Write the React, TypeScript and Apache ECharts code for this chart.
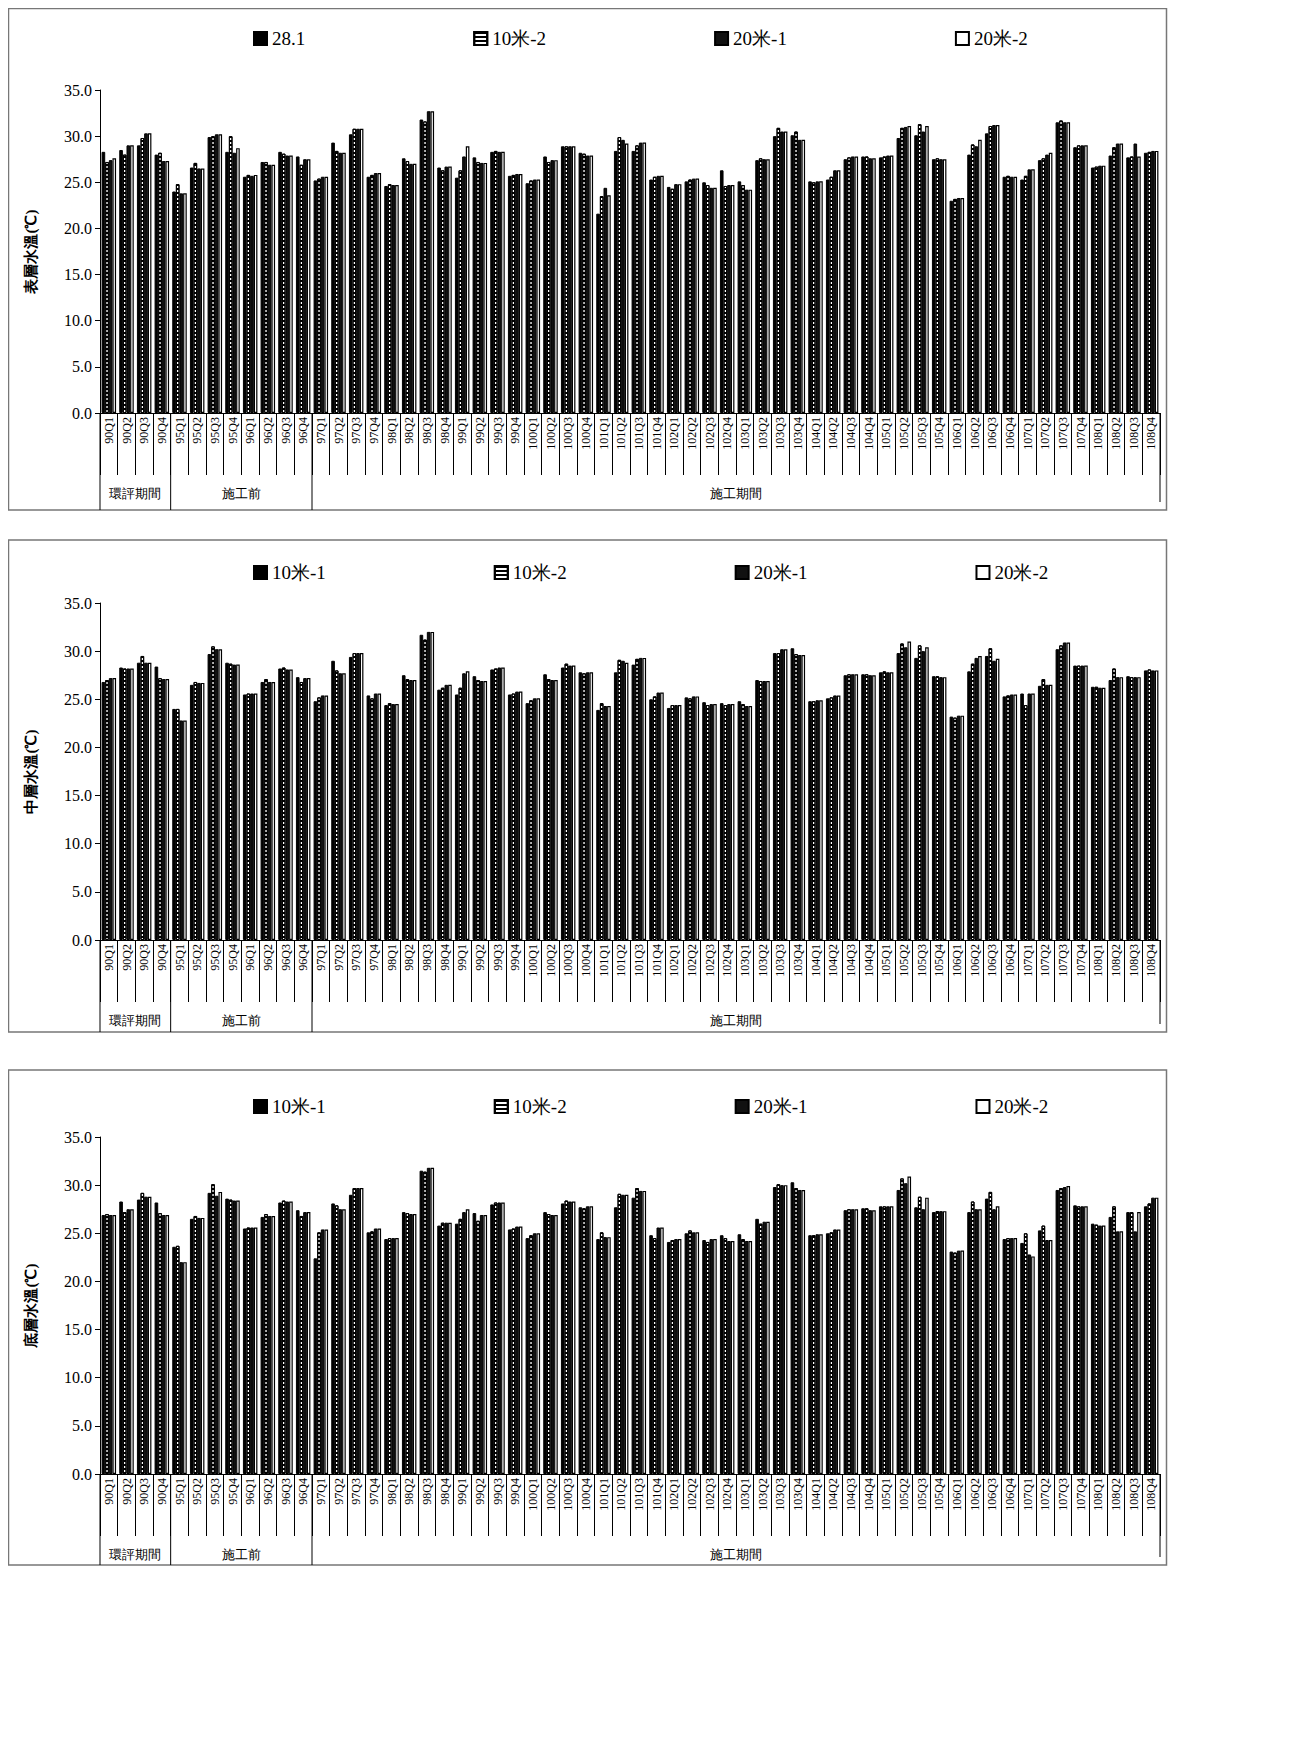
import { useEffect, useRef } from "react";
import * as echarts from "echarts";

const years = ["90", "95", "96", "97", "98", "99", "100", "101", "102", "103", "104", "105", "106", "107", "108"];
const categories = years.flatMap((y) => ["Q1", "Q2", "Q3", "Q4"].map((q) => y + q));

const periods = [
  { label: "環評期間", from: 0, to: 4 },
  { label: "施工前", from: 4, to: 12 },
  { label: "施工期間", from: 12, to: 60 },
];

const yNames = ["表層水溫(℃)", "中層水溫(℃)", "底層水溫(℃)"];
const seriesNames = [
  ["28.1", "10米-2", "20米-1", "20米-2"],
  ["10米-1", "10米-2", "20米-1", "20米-2"],
  ["10米-1", "10米-2", "20米-1", "20米-2"],
];

// panel 1: surface
const surf1 = [28.3,28.5,29.0,28.0,24.0,26.6,29.9,28.3,25.6,27.2,28.3,27.8,25.2,29.3,30.2,25.6,24.6,27.6,31.8,26.6,25.5,27.7,28.3,25.7,24.9,27.8,28.9,28.2,21.6,28.4,28.4,25.3,24.5,25.1,25.0,26.3,25.1,27.4,30.0,30.1,25.1,25.3,27.5,27.8,27.7,29.8,30.1,27.5,23.0,28.0,30.3,25.6,25.3,27.4,31.5,28.8,26.6,27.9,27.7,28.2];
const surf2 = [27.2,28.0,29.8,28.2,24.8,27.1,30.0,30.0,25.8,27.2,28.1,26.9,25.4,28.4,30.8,25.8,24.8,27.3,31.6,26.3,26.3,27.2,28.4,25.8,25.2,27.2,28.9,28.1,23.5,29.9,29.0,25.6,24.3,25.3,24.7,24.6,24.7,27.6,30.9,30.5,25.0,25.6,27.7,27.8,27.8,30.9,31.3,27.6,23.2,29.1,31.1,25.7,25.7,27.6,31.7,29.0,26.7,28.8,27.8,28.3];
const surf3 = [27.4,29.0,30.3,27.3,23.8,26.5,30.2,28.2,25.7,26.9,27.9,27.5,25.6,28.2,30.8,26.0,24.7,27.0,32.7,26.7,27.8,27.1,28.3,25.9,25.3,27.4,28.9,27.9,24.4,29.6,29.3,25.7,24.8,25.4,24.4,24.7,24.2,27.5,30.5,29.6,25.1,26.3,27.8,27.6,27.9,31.0,30.5,27.5,23.3,28.9,31.2,25.6,26.4,28.0,31.5,29.0,26.8,29.2,29.2,28.4];
const surf4 = [27.6,29.0,30.3,27.3,23.8,26.5,30.2,28.7,25.8,26.9,27.9,27.5,25.6,28.2,30.8,26.0,24.7,27.0,32.7,26.7,28.9,27.1,28.3,25.9,25.3,27.4,28.9,27.9,23.6,29.2,29.3,25.7,24.8,25.4,24.4,24.7,24.2,27.5,30.5,29.6,25.1,26.3,27.8,27.6,27.9,31.1,31.1,27.5,23.3,29.6,31.2,25.6,26.4,28.2,31.5,29.0,26.8,29.2,27.8,28.4];

// panel 2: middle
const mid1 = [26.8,28.3,28.8,28.4,24.0,26.5,29.7,28.8,25.5,26.8,28.2,27.3,24.8,29.0,29.4,25.4,24.4,27.5,31.7,26.0,25.5,27.4,28.1,25.5,24.6,27.6,28.3,27.8,23.9,27.8,28.6,25.0,24.1,25.2,24.7,24.6,24.8,27.0,29.8,30.3,24.8,25.1,27.5,27.6,27.8,29.8,29.3,27.4,23.2,27.9,29.5,25.3,25.6,26.4,30.2,28.5,26.3,27.0,27.4,28.0];
const mid2 = [27.0,28.2,29.5,27.2,24.0,26.8,30.5,28.7,25.6,27.1,28.3,26.8,25.2,28.0,29.8,25.1,24.6,27.1,31.2,26.2,26.2,27.0,28.2,25.6,24.9,27.1,28.7,27.7,24.6,29.1,29.2,25.3,24.4,25.1,24.4,24.4,24.5,26.9,29.8,29.7,24.8,25.2,27.6,27.6,27.9,30.8,30.6,27.4,23.1,28.7,30.3,25.4,24.4,27.1,30.6,28.5,26.3,28.2,27.3,28.1];
const mid3 = [27.2,28.2,28.8,27.1,22.8,26.7,30.2,28.6,25.6,26.8,28.1,27.2,25.4,27.7,29.8,25.6,24.5,27.0,32.0,26.5,27.7,26.9,28.3,25.8,25.1,27.0,28.5,27.8,24.3,29.0,29.3,25.7,24.4,25.3,24.5,24.5,24.3,26.9,30.2,29.6,24.9,25.4,27.6,27.5,27.8,30.4,30.0,27.3,23.3,29.3,29.0,25.5,25.6,26.5,30.9,28.5,26.2,27.3,27.3,28.0];
const mid4 = [27.2,28.2,28.8,27.1,22.8,26.7,30.2,28.6,25.6,26.8,28.1,27.2,25.4,27.7,29.8,25.6,24.5,27.0,32.0,26.5,27.9,26.9,28.3,25.8,25.1,27.0,28.5,27.8,24.3,28.8,29.3,25.7,24.4,25.3,24.5,24.5,24.3,26.9,30.2,29.6,24.9,25.4,27.6,27.5,27.8,31.0,30.4,27.3,23.3,29.5,29.2,25.5,25.6,26.5,30.9,28.5,26.2,27.3,27.3,28.0];

// panel 3: bottom
const bot1 = [26.9,28.3,28.5,28.2,23.6,26.5,29.2,28.6,25.5,26.7,28.2,27.4,22.4,28.1,29.0,25.1,24.4,27.2,31.5,25.8,26.0,27.1,28.0,25.4,24.5,27.2,28.1,27.7,24.4,27.7,28.7,24.8,24.1,25.0,24.3,24.8,24.9,26.5,29.8,30.3,24.8,25.0,27.4,27.6,27.8,29.5,27.7,27.2,23.1,27.2,28.6,24.4,24.0,25.3,29.5,27.9,26.0,26.7,27.2,27.8];
const bot2 = [27.0,27.2,29.2,27.1,23.7,26.8,30.1,28.5,25.6,27.0,28.4,26.8,25.1,27.9,29.7,25.2,24.5,27.1,31.4,26.1,26.5,26.3,28.2,25.5,24.8,27.0,28.4,27.6,25.1,29.1,29.7,24.5,24.3,25.3,24.1,24.5,24.4,26.0,30.1,29.7,24.8,25.1,27.5,27.6,27.8,30.7,28.8,27.3,23.0,28.3,29.3,24.5,25.0,25.8,29.7,27.8,25.9,27.8,27.2,28.1];
const bot3 = [26.9,27.5,28.8,26.9,22.0,26.6,28.9,28.4,25.6,26.8,28.3,27.2,25.4,27.5,29.7,25.5,24.5,27.0,31.8,26.1,27.2,26.9,28.2,25.7,25.0,26.9,28.3,27.8,24.6,29.0,29.4,25.6,24.4,25.1,24.4,24.2,24.2,26.2,30.0,29.5,24.9,25.4,27.5,27.4,27.8,30.2,27.5,27.3,23.2,27.5,27.5,24.5,22.8,24.3,29.8,27.8,25.8,25.2,25.2,28.7];
const bot4 = [26.9,27.5,28.8,26.9,22.0,26.6,29.3,28.4,25.6,26.8,28.3,27.2,25.4,27.5,29.7,25.5,24.5,27.0,31.8,26.1,27.5,26.9,28.2,25.7,25.0,26.9,28.3,27.8,24.6,29.0,29.4,25.6,24.4,25.1,24.4,24.2,24.2,26.2,30.0,29.5,24.9,25.4,27.5,27.4,27.8,30.9,28.7,27.3,23.2,27.5,27.8,24.5,22.6,24.3,29.9,27.8,25.8,25.2,27.2,28.7];

const panelData = [
  [surf1, surf2, surf3, surf4],
  [mid1, mid2, mid3, mid4],
  [bot1, bot2, bot3, bot4],
];

const W = 1160;
const H = 1560;
const FONT = "Liberation Serif";
const panels = [
  { boxTop: 0.5, boxBottom: 502, gridTop: 82, gridH: 323, legendTop: 16 },
  { boxTop: 532, boxBottom: 1024, gridTop: 595, gridH: 337, legendTop: 550 },
  { boxTop: 1062, boxBottom: 1557, gridTop: 1129, gridH: 337, legendTop: 1084 },
];
const gridLeft = 92;
const gridRight = 8;

const seriesStyles = [
  { color: "#000", borderColor: "#000", borderWidth: 1 },
  { color: "#fff", borderColor: "#000", borderWidth: 1, decal: { symbol: "rect", symbolSize: 1, color: "#000", dashArrayX: [[1, 0]], dashArrayY: [2, 2], rotation: 0, backgroundColor: "#fff" } },
  { color: "#111", borderColor: "#000", borderWidth: 1 },
  { color: "#fff", borderColor: "#000", borderWidth: 1.2 },
];

function buildOption() {
  const plotW = W - gridLeft - gridRight;
  const band = plotW / categories.length;
  const graphic: any[] = [];
  panels.forEach((p) => {
    graphic.push({
      type: "rect",
      shape: { x: 0.5, y: p.boxTop, width: W - 2, height: p.boxBottom - p.boxTop },
      style: { fill: "none", stroke: "#777", lineWidth: 1.5 },
      silent: true,
    });
    const axisY = p.gridTop + p.gridH;
    periods.forEach((per) => {
      const x = gridLeft + per.from * band;
      graphic.push({
        type: "line",
        shape: { x1: x, y1: axisY, x2: x, y2: p.boxBottom },
        style: { stroke: "#000", lineWidth: 1 },
        silent: true,
      });
      graphic.push({
        type: "text",
        x: gridLeft + ((per.from + per.to) / 2) * band,
        y: axisY + 80,
        style: { text: per.label, fill: "#000", font: `13px "${FONT}"`, align: "center", verticalAlign: "middle" },
        silent: true,
      });
    });
    graphic.push({
      type: "line",
      shape: { x1: W - gridRight, y1: axisY, x2: W - gridRight, y2: p.boxBottom - 8 },
      style: { stroke: "#000", lineWidth: 1 },
      silent: true,
    });
  });

  return {
    animation: false,
    backgroundColor: "#fff",
    textStyle: { fontFamily: FONT, color: "#000" },
    grid: panels.map((p) => ({ left: gridLeft, right: gridRight, top: p.gridTop, height: p.gridH })),
    legend: panels.map((p, i) => ({
      top: p.legendTop,
      left: 240,
      itemGap: 168,
      itemWidth: 13,
      itemHeight: 13,
      icon: "rect",
      data: seriesNames[i],
      textStyle: { fontFamily: FONT, fontSize: 19, color: "#000" },
    })),
    xAxis: panels.map((_, i) => ({
      type: "category",
      gridIndex: i,
      data: categories,
      boundaryGap: true,
      axisLine: { lineStyle: { color: "#000" } },
      axisTick: { show: true, interval: 0, length: 62, lineStyle: { color: "#000" } },
      axisLabel: { interval: 0, rotate: 90, fontSize: 12, color: "#000", fontFamily: FONT, margin: 4 },
    })),
    yAxis: panels.map((_, i) => ({
      type: "value",
      gridIndex: i,
      min: 0,
      max: 35,
      interval: 5,
      name: yNames[i],
      nameLocation: "middle",
      nameGap: 62,
      nameRotate: 90,
      nameTextStyle: { fontFamily: FONT, fontSize: 15, fontWeight: "bold", color: "#000" },
      axisLine: { show: true, lineStyle: { color: "#000" } },
      axisTick: { show: true, length: 5, lineStyle: { color: "#000" } },
      splitLine: { show: false },
      axisLabel: { fontSize: 16, color: "#000", fontFamily: FONT, formatter: (v: number) => v.toFixed(1) },
    })),
    series: panels.flatMap((_, i) =>
      panelData[i].map((vals, k) => ({
        type: "bar",
        name: seriesNames[i][k],
        xAxisIndex: i,
        yAxisIndex: i,
        data: vals,
        barGap: "0%",
        barCategoryGap: "18%",
        itemStyle: seriesStyles[k],
      }))
    ),
    aria: { enabled: false, decal: { show: false } },
    graphic,
  };
}

export default function App() {
  const ref = useRef<HTMLDivElement | null>(null);
  useEffect(() => {
    if (!ref.current) return;
    const chart = echarts.init(ref.current, undefined, { renderer: "svg" });
    chart.setOption(buildOption() as any);
    return () => chart.dispose();
  }, []);
  return <div ref={ref} style={{ width: W, height: H }} />;
}
